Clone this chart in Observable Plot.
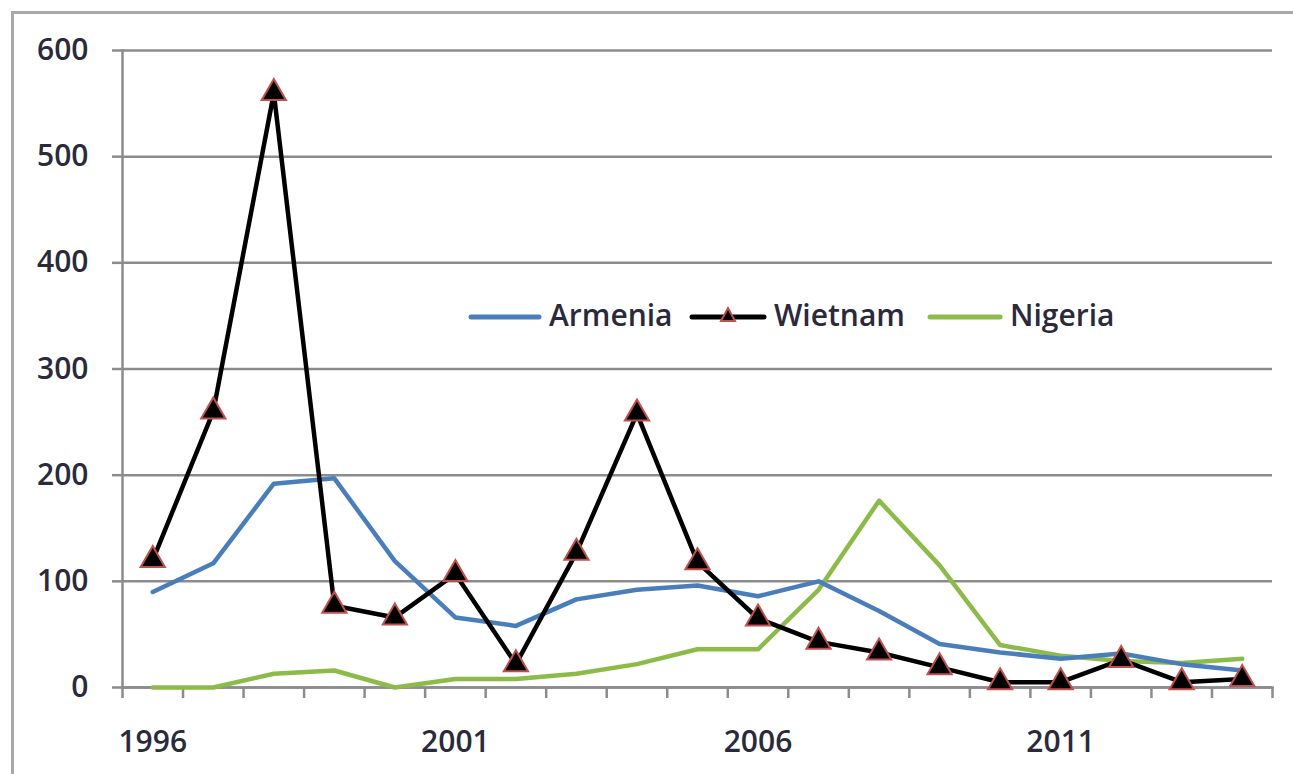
<!DOCTYPE html>
<html>
<head>
<meta charset="utf-8">
<script src="https://cdn.jsdelivr.net/npm/d3@7"></script>
<script src="https://cdn.jsdelivr.net/npm/@observablehq/plot@0.6"></script>
<style>
  html, body { margin: 0; padding: 0; background: #fff; overflow: hidden; }
  #wrap { position: relative; width: 1293px; height: 774px; overflow: hidden; }
  #frame { position: absolute; left: 11px; top: 11px; width: 1400px; height: 900px; border: 3px solid #a9a9a9; box-sizing: border-box; }
  #chart { position: absolute; left: 0; top: 0; }
  .leg { position: absolute; font-family: "Open Sans", sans-serif; font-size: 30px; font-weight: 600; color: #2a2a3a; line-height: 1; white-space: nowrap; }
  .sw { position: absolute; }
</style>
</head>
<body>
<div id="wrap">
  <div id="frame"></div>
  <div id="chart"></div>
</div>
<script>
const years = [1996, 1997, 1998, 1999, 2000, 2001, 2002, 2003, 2004, 2005, 2006, 2007, 2008, 2009, 2010, 2011, 2012, 2013, 2014];
const armenia = [90, 117, 192, 197, 119, 66, 58, 83, 92, 96, 86, 100, 72, 41, 33, 27, 32, 22, 16];
const wietnam = [120, 260, 560, 77, 66, 107, 22, 127, 258, 118, 65, 43, 33, 19, 5, 5, 26, 5, 8];
const nigeria = [0, 0, 13, 16, 0, 8, 8, 13, 22, 36, 36, 92, 176, 115, 40, 30, 25, 23, 27];
const yTicks = [0, 100, 200, 300, 400, 500, 600];
const xLabels = [1996, 2001, 2006, 2011];
const seriesNames = ["Armenia", "Wietnam", "Nigeria"];
const colors = {Armenia: "#4a7ebb", Wietnam: "#000000", Nigeria: "#8dbb4a"};
const markerStroke = "#c0504d";

// category boundaries (Excel-style ticks between categories)
const boundaries = years.map(y => y - 0.5).concat([years[years.length - 1] + 0.5]);

const toRows = (name, vals) => years.map((year, i) => ({year, value: vals[i], name}));
const rowsA = toRows("Armenia", armenia);
const rowsW = toRows("Wietnam", wietnam);
const rowsN = toRows("Nigeria", nigeria);

const grid = "#8c8c8c";

const chart = Plot.plot({
  width: 1293,
  height: 774,
  marginLeft: 122,
  marginRight: 21,
  marginTop: 50,
  marginBottom: 87,
  x: {domain: [boundaries[0], boundaries[boundaries.length - 1]]},
  y: {domain: [0, 600]},
  style: {fontFamily: "'Open Sans', sans-serif", fontSize: "30px", color: "#2a2a3a", background: "transparent", overflow: "visible"},
  marks: [
    Plot.gridY(yTicks, {stroke: grid, strokeOpacity: 1, strokeWidth: 2.5}),
    Plot.axisY(yTicks, {tickSize: 10, tickPadding: 24, stroke: grid, strokeWidth: 2.5, strokeOpacity: 1, label: null, fontWeight: 600}),
    Plot.frame({anchor: "left", stroke: grid, strokeWidth: 2.5}),
    Plot.axisX(boundaries, {tickSize: 11, tickFormat: () => "", stroke: grid, strokeWidth: 2.5, strokeOpacity: 1, label: null}),
    Plot.axisX(xLabels, {tickSize: 0, tickPadding: 43, tickFormat: "d", label: null, fontWeight: 600}),
    Plot.frame({anchor: "bottom", stroke: grid, strokeWidth: 2.5}),
    Plot.line(rowsN, {x: "year", y: "value", stroke: colors.Nigeria, strokeWidth: 4.5, strokeLinejoin: "round"}),
    Plot.line(rowsA, {x: "year", y: "value", stroke: colors.Armenia, strokeWidth: 4.5, strokeLinejoin: "round"}),
    Plot.line(rowsW, {x: "year", y: "value", stroke: colors.Wietnam, strokeWidth: 4.5, strokeLinejoin: "round"}),
    Plot.dot(rowsW, {x: "year", y: "value", symbol: "triangle", r: 9, fill: "#000", stroke: markerStroke, strokeWidth: 2})
  ]
});
document.getElementById("chart").appendChild(chart);

// Legend (inside plot area, like the original)
const wrap = document.getElementById("wrap");
const legendY = 317;
const legendItems = [
  {name: seriesNames[0], x0: 468, x1: 542, tx: 549, marker: false},
  {name: seriesNames[1], x0: 689, x1: 767, tx: 774, marker: true},
  {name: seriesNames[2], x0: 927, x1: 1003, tx: 1010, marker: false}
];
for (const it of legendItems) {
  const w = it.x1 - it.x0;
  const svg = document.createElementNS("http://www.w3.org/2000/svg", "svg");
  svg.setAttribute("class", "sw");
  svg.setAttribute("width", w);
  svg.setAttribute("height", 24);
  svg.style.left = it.x0 + "px";
  svg.style.top = (legendY - 12) + "px";
  const ln = document.createElementNS("http://www.w3.org/2000/svg", "line");
  ln.setAttribute("x1", 3); ln.setAttribute("x2", w - 3);
  ln.setAttribute("y1", 12); ln.setAttribute("y2", 12);
  ln.setAttribute("stroke", colors[it.name]);
  ln.setAttribute("stroke-width", 5);
  ln.setAttribute("stroke-linecap", "round");
  svg.appendChild(ln);
  if (it.marker) {
    const c = w / 2;
    const p = document.createElementNS("http://www.w3.org/2000/svg", "path");
    p.setAttribute("d", `M${c},3 L${c + 7},16 L${c - 7},16 Z`);
    p.setAttribute("fill", "#000");
    p.setAttribute("stroke", markerStroke);
    p.setAttribute("stroke-width", 2);
    svg.appendChild(p);
  }
  wrap.appendChild(svg);
  const t = document.createElement("div");
  t.className = "leg";
  t.textContent = it.name;
  t.style.left = it.tx + "px";
  t.style.top = (legendY - 17) + "px";
  wrap.appendChild(t);
}
</script>
</body>
</html>
